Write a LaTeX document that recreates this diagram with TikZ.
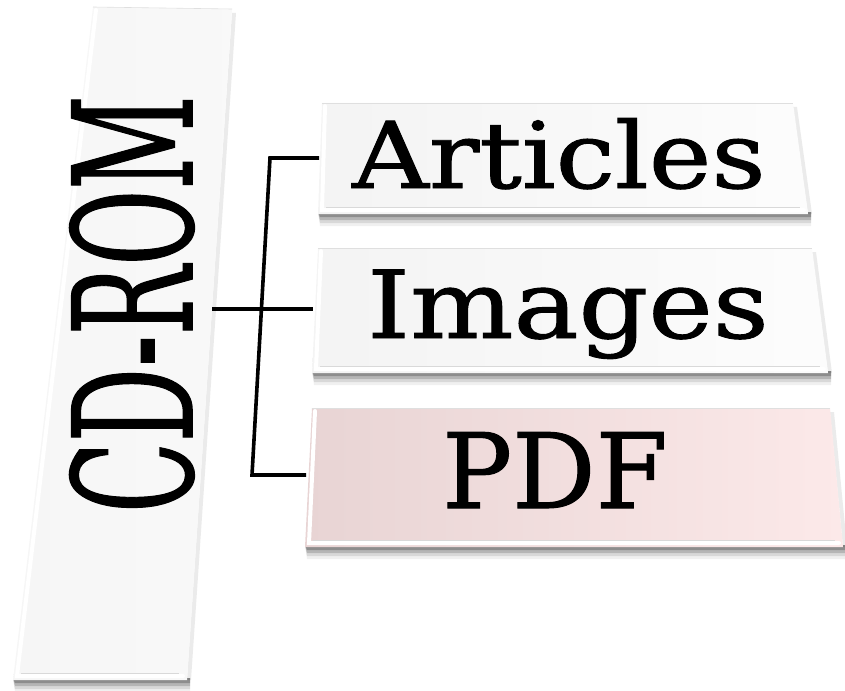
\documentclass[tikz,border=0pt]{standalone}
\usepackage{fontspec}
\setmainfont{DejaVu Serif}
\newfontfamily\slabfont[FakeBold=1]{DejaVu Serif}
\usetikzlibrary{calc}

\definecolor{roseL}{RGB}{232,212,212}
\definecolor{roseR}{RGB}{252,233,233}

\tikzset{
  panel/.style={left color=gray!9, right color=gray!2},
  barpanel/.style={left color=gray!7, right color=gray!5},
  rosepanel/.style={left color=roseL, right color=roseR},
  bevel/.style={white, line width=4pt, line cap=round},
  link/.style={line width=3.6pt, line join=miter},
  label/.style={inner sep=0pt, text=black},
}

% slab with soft shadow and white bevel: nw, ne, se, sw, fill style
\newcommand{\slab}[5]{%
  \foreach \d/\o in {12/0.06,9/0.10,6/0.16,3/0.22}{
    \fill[black, opacity=\o] ($(#4)+(0,-2)$) -- ($(#3)+(3,-2)$) -- ($(#3)+(3,\d)$) -- ($(#4)+(2,\d)$) -- cycle;}
  \fill[black, opacity=0.08] ($(#2)+(0,4)$) -- ($(#2)+(4,4)$) -- ($(#3)+(4,0)$) -- (#3) -- cycle;
  \path[#5] (#1) -- (#2) -- (#3) -- (#4) -- cycle;
  \draw[gray!25, line width=0.6pt] (#1) -- (#2);
  \draw[bevel] ($(#1)+(3,3)$) -- ($(#4)+(4,-4)$) -- ($(#3)+(-4,-4)$);
  \draw[gray!30, line width=0.6pt] ($(#4)+(8,-7)$) -- ($(#3)+(-8,-7)$);
}

\begin{document}
\begin{tikzpicture}[x=1pt, y=-1pt]
\useasboundingbox (0,0) rectangle (845,690);

% corners of the slabs
\coordinate (b-nw) at (93,7);   \coordinate (b-ne) at (232,9);
\coordinate (b-se) at (187,680); \coordinate (b-sw) at (13,680);
\coordinate (a-nw) at (322,103); \coordinate (a-ne) at (793,103);
\coordinate (a-se) at (808,214); \coordinate (a-sw) at (318,214);
\coordinate (i-nw) at (318,248); \coordinate (i-ne) at (812,248);
\coordinate (i-se) at (828,373); \coordinate (i-sw) at (312,373);
\coordinate (p-nw) at (312,408); \coordinate (p-ne) at (830,408);
\coordinate (p-se) at (843,547); \coordinate (p-sw) at (305,547);

\slab{b-nw}{b-ne}{b-se}{b-sw}{barpanel}
\slab{a-nw}{a-ne}{a-se}{a-sw}{panel}
\slab{i-nw}{i-ne}{i-se}{i-sw}{panel}
\slab{p-nw}{p-ne}{p-se}{p-sw}{rosepanel}

% labels
\node[label, rotate=90, xscale=0.56, anchor=base, font=\slabfont\fontsize{165}{165}\selectfont] (cdrom) at (192,304) {CD-ROM};
\node[label, xscale=1.15, anchor=base, font=\slabfont\fontsize{92}{92}\selectfont] (articles) at (559,188) {Articles};
\node[label, xscale=1.16, anchor=base, font=\slabfont\fontsize{94}{94}\selectfont] (images) at (568,338) {Images};
\node[label, anchor=base, font=\slabfont\fontsize{104}{104}\selectfont] (pdf) at (555,508) {PDF};

% tree connectors
\coordinate (bar-e) at (212,309);
\coordinate (fork-a) at (270,158);
\coordinate (fork-p) at (252,475);
\coordinate (a-w) at (319,158);
\coordinate (i-w) at (313,309);
\coordinate (p-w) at (306,475);
\draw[link] (a-w) -- (fork-a) -- (fork-p) -- (p-w);
\draw[link] (bar-e) -- (i-w);
\end{tikzpicture}
\end{document}
